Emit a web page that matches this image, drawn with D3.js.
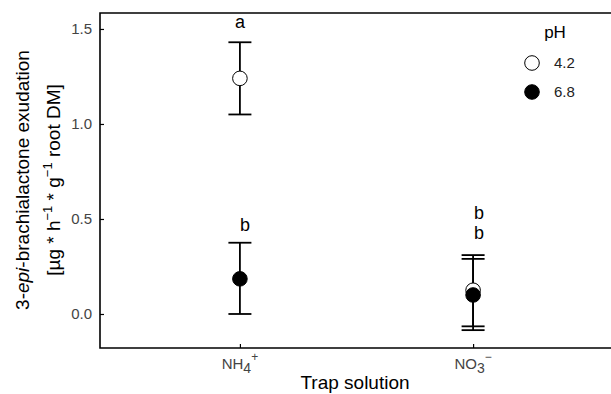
<!DOCTYPE html>
<html>
<head>
<meta charset="utf-8">
<script src="https://cdn.jsdelivr.net/npm/d3@7"></script>
<style>
  body { margin: 0; background: #fff; overflow: hidden; }
  text { font-family: "Liberation Sans", Arial, sans-serif; }
</style>
</head>
<body>
<div id="chart"></div>
<script>
// data
var categories = ["NH4", "NO3"];
var phLevels = ["4.2", "6.8"];
var mean42 = [1.24, 0.125];
var upper42 = [1.43, 0.31];
var lower42 = [1.05, -0.065];
var mean68 = [0.185, 0.10];
var upper68 = [0.375, 0.29];
var lower68 = [0.0, -0.085];
var letters42 = ["a", "b"];
var letters68 = ["b", "b"];
var yTicks = [0.0, 0.5, 1.0, 1.5];

var W = 611, H = 394;
var pLeft = 100, pTop = 13, pRight = 613, pBottom = 348;

var svg = d3.select("#chart").append("svg")
    .attr("width", W).attr("height", H).style("display", "block");

var x = d3.scalePoint().domain(categories).range([pLeft, pRight]).padding(0.6);
var y = d3.scaleLinear().domain([-0.179, 1.584]).range([pBottom, pTop]);

// frame (right side runs off the picture)
svg.append("path")
    .attr("d", "M" + (W + 40) + "," + pTop + "H" + pLeft + "V" + pBottom + "H" + (W + 40))
    .attr("fill", "none").attr("stroke", "#000").attr("stroke-width", 1.6);

// y axis, ticks inside
var yAxis = svg.append("g").attr("transform", "translate(" + pLeft + ",0)")
    .call(d3.axisLeft(y).tickValues(yTicks).tickSizeInner(-4).tickSizeOuter(0)
        .tickPadding(8).tickFormat(d3.format(".1f")));
yAxis.select(".domain").remove();
yAxis.selectAll("line").attr("stroke", "#000").attr("stroke-width", 1.2);
yAxis.selectAll("text").attr("fill", "#444").style("font-size", "15px")
    .style("font-family", "'Liberation Sans', Arial, sans-serif");

// x axis, ticks inside
var xAxis = svg.append("g").attr("transform", "translate(0," + pBottom + ")")
    .call(d3.axisBottom(x).tickSizeInner(-4).tickSizeOuter(0).tickFormat(""));
xAxis.select(".domain").remove();
xAxis.selectAll("line").attr("stroke", "#000").attr("stroke-width", 1.2);

// category labels with sub/superscripts
var lab = {NH4: ["NH", "4", "+"], NO3: ["NO", "3", "\u2212"]};
categories.forEach(function (c) {
    var t = svg.append("text").attr("x", x(c)).attr("y", 369)
        .attr("text-anchor", "middle").attr("fill", "#444").style("font-size", "15px");
    t.append("tspan").text(lab[c][0]);
    t.append("tspan").attr("dy", 4).style("font-size", "14px").text(lab[c][1]);
    t.append("tspan").attr("dy", -12).style("font-size", "12px").text(lab[c][2]);
});

svg.append("text").attr("x", 355).attr("y", 389).attr("text-anchor", "middle")
    .style("font-size", "19px").text("Trap solution");

// y title
var yt = svg.append("text").attr("transform", "translate(29,180) rotate(-90)")
    .attr("text-anchor", "middle").style("font-size", "19px");
yt.append("tspan").text("3-");
yt.append("tspan").style("font-style", "italic").text("epi");
yt.append("tspan").text("-brachialactone exudation");

var yt2 = svg.append("text").attr("transform", "translate(60,180) rotate(-90)")
    .attr("text-anchor", "middle").style("font-size", "19px");
yt2.append("tspan").text("[\u00b5g * h");
yt2.append("tspan").attr("dy", -8).style("font-size", "13px").text("\u22121");
yt2.append("tspan").attr("dy", 8).text(" * g");
yt2.append("tspan").attr("dy", -8).style("font-size", "13px").text("\u22121");
yt2.append("tspan").attr("dy", 8).text(" root DM]");

// series
var series = [
    {ph: phLevels[0], mean: mean42, hi: upper42, lo: lower42, letters: letters42, fill: "#fff"},
    {ph: phLevels[1], mean: mean68, hi: upper68, lo: lower68, letters: letters68, fill: "#000"}
];
var cap = 11.5;

// error bars first
series.forEach(function (s) {
    var g = svg.append("g");
    categories.forEach(function (c, i) {
        var cx = x(c);
        g.append("line").attr("x1", cx).attr("x2", cx)
            .attr("y1", y(s.hi[i])).attr("y2", y(s.lo[i]))
            .attr("stroke", "#000").attr("stroke-width", 1.8);
        [s.hi[i], s.lo[i]].forEach(function (v) {
            g.append("line").attr("x1", cx - cap).attr("x2", cx + cap)
                .attr("y1", y(v)).attr("y2", y(v))
                .attr("stroke", "#000").attr("stroke-width", 1.8);
        });
    });
});

// points
series.forEach(function (s) {
    svg.append("g").selectAll("circle").data(categories).join("circle")
        .attr("cx", function (c) { return x(c); })
        .attr("cy", function (c, i) { return y(s.mean[i]); })
        .attr("r", 7.3)
        .attr("fill", s.fill).attr("stroke", "#000").attr("stroke-width", 1);
});

// significance letters
function letter(xx, yy, t) {
    svg.append("text").attr("x", xx).attr("y", yy)
        .attr("text-anchor", "middle").style("font-size", "18px").text(t);
}
letter(x("NH4"), y(upper42[0]) - 14, letters42[0]);
letter(x("NH4") + 5, y(upper68[0]) - 12, letters68[0]);
letter(x("NO3") + 6, y(upper42[1]) - 16, letters42[1]);
letter(x("NO3") + 6, y(upper42[1]) - 36, letters68[1]);

// legend
svg.append("text").attr("x", 555).attr("y", 38).attr("text-anchor", "middle")
    .style("font-size", "17px").text("pH");
series.forEach(function (s, i) {
    var ly = 63 + i * 29;
    svg.append("circle").attr("cx", 532).attr("cy", ly).attr("r", 7.3)
        .attr("fill", s.fill).attr("stroke", "#000").attr("stroke-width", 1);
    svg.append("text").attr("x", 554).attr("y", ly + 5)
        .attr("fill", "#222").style("font-size", "15px").text(s.ph);
});
</script>
</body>
</html>
